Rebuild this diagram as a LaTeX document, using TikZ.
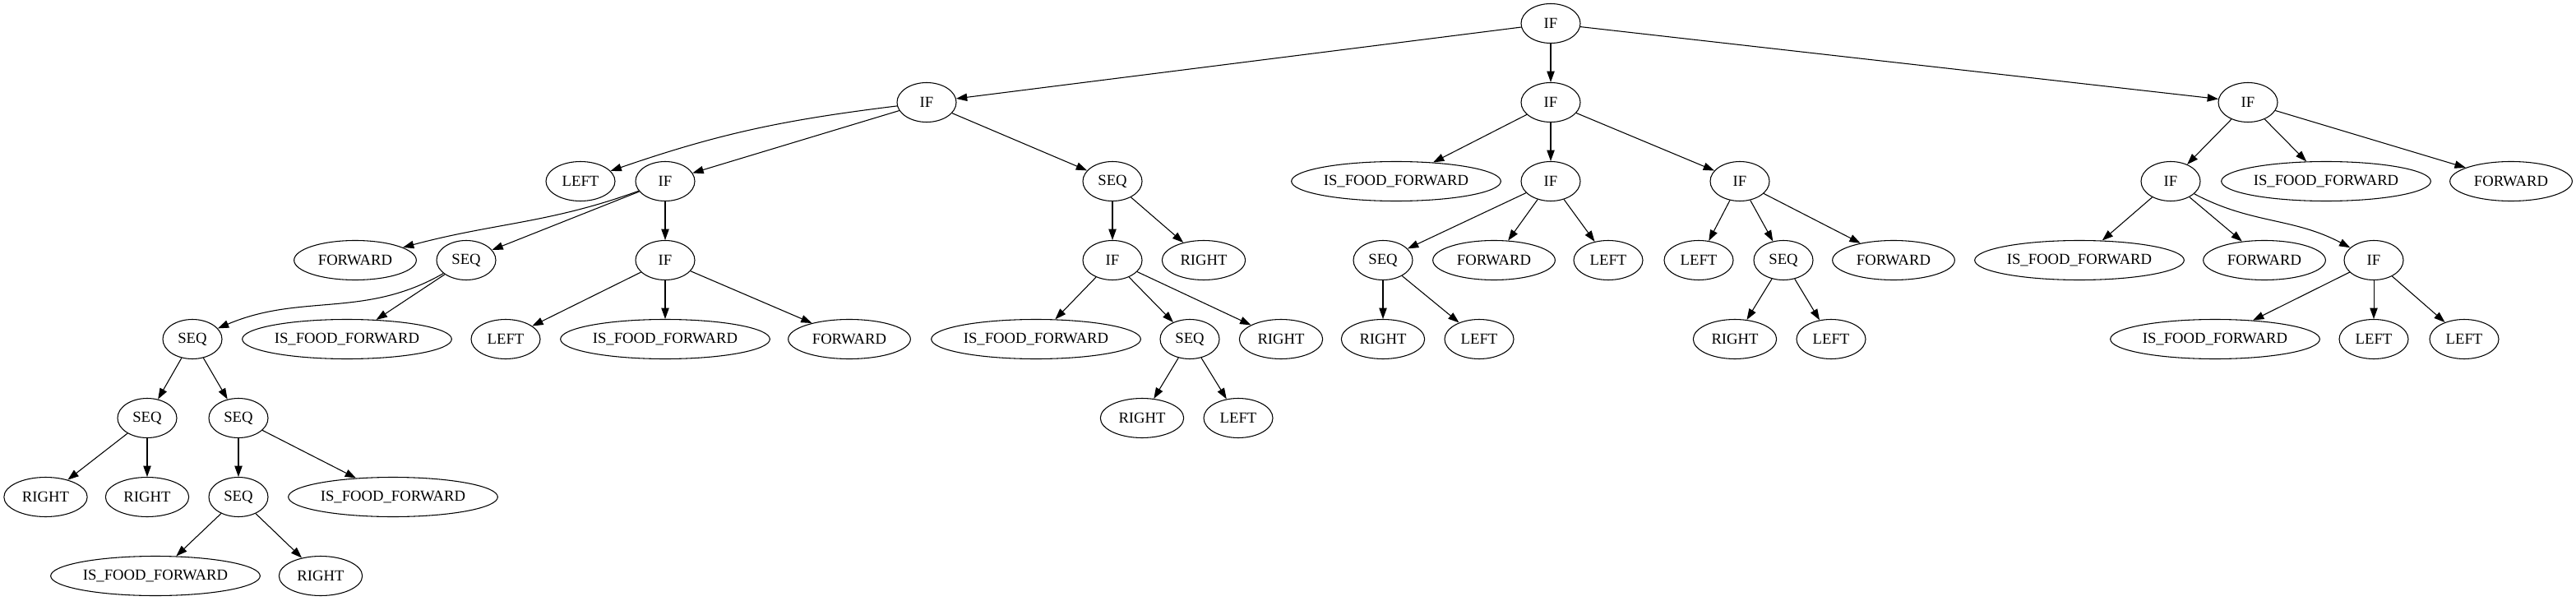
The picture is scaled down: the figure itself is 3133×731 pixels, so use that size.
\documentclass[tikz,border=0pt]{standalone}
\usepackage{fontspec}
\setmainfont{Liberation Serif}
\usetikzlibrary{shapes.geometric,arrows.meta}

\begin{document}
\begin{tikzpicture}[x=0.75pt, y=-0.75pt, line width=0.8pt,
		>={Triangle[length=10pt,width=7pt]},
		gv/.style={draw, ellipse, inner sep=0pt, minimum width=54pt, minimum height=36pt, font=\fontsize{14pt}{17pt}\selectfont},
		lft/.style={gv, minimum width=63pt},
		rgt/.style={gv, minimum width=76pt},
		fwd/.style={gv, minimum width=111.5pt},
		isf/.style={gv, minimum width=191pt}]
		\useasboundingbox (0,0) rectangle (3133,731);
		
		% rank 0 and 1
		\node[gv] (IF1) at (1886,28.5) {IF};
		\node[gv] (IF2) at (1127,124.5) {IF};
		\node[gv] (IF3) at (1886,124.5) {IF};
		\node[gv] (IF4) at (2734,124.5) {IF};
		
		% rank 2
		\node[lft] (L1) at (706,220.5) {LEFT};
		\node[gv] (IF5) at (809,220.5) {IF};
		\node[gv] (SEQ1) at (1353,220.5) {SEQ};
		\node[isf] (FF1) at (1698,220.5) {IS\_FOOD\_FORWARD};
		\node[gv] (IF6) at (1886,220.5) {IF};
		\node[gv] (IF7) at (2116,220.5) {IF};
		\node[gv] (IF8) at (2640,220.5) {IF};
		\node[isf] (FF2) at (2829,220.5) {IS\_FOOD\_FORWARD};
		\node[fwd] (F1) at (3054,220.5) {FORWARD};
		
		% rank 3
		\node[fwd] (F2) at (432,316.5) {FORWARD};
		\node[gv] (SEQ2) at (567,316.5) {SEQ};
		\node[gv] (IF9) at (809,316.5) {IF};
		\node[gv] (IF10) at (1353,316.5) {IF};
		\node[rgt] (R1) at (1464,316.5) {RIGHT};
		\node[gv] (SEQ3) at (1682,316.5) {SEQ};
		\node[fwd] (F3) at (1817,316.5) {FORWARD};
		\node[lft] (L2) at (1956,316.5) {LEFT};
		\node[lft] (L3) at (2066,316.5) {LEFT};
		\node[gv] (SEQ4) at (2169,316.5) {SEQ};
		\node[fwd] (F4) at (2303,316.5) {FORWARD};
		\node[isf] (FF3) at (2529,316.5) {IS\_FOOD\_FORWARD};
		\node[fwd] (F5) at (2754,316.5) {FORWARD};
		\node[gv] (IF11) at (2887,316.5) {IF};
		
		% rank 4
		\node[gv] (SEQ5) at (234,412.5) {SEQ};
		\node[isf] (FF4) at (422,412.5) {IS\_FOOD\_FORWARD};
		\node[lft] (L4) at (615,412.5) {LEFT};
		\node[isf] (FF5) at (809,412.5) {IS\_FOOD\_FORWARD};
		\node[fwd] (F6) at (1033,412.5) {FORWARD};
		\node[isf] (FF6) at (1260,412.5) {IS\_FOOD\_FORWARD};
		\node[gv] (SEQ6) at (1447,412.5) {SEQ};
		\node[rgt] (R2) at (1558,412.5) {RIGHT};
		\node[rgt] (R3) at (1682,412.5) {RIGHT};
		\node[lft] (L5) at (1799,412.5) {LEFT};
		\node[rgt] (R4) at (2110,412.5) {RIGHT};
		\node[lft] (L6) at (2227,412.5) {LEFT};
		\node[isf] (FF7) at (2694,412.5) {IS\_FOOD\_FORWARD};
		\node[lft] (L7) at (2887,412.5) {LEFT};
		\node[lft] (L8) at (2997,412.5) {LEFT};
		
		% rank 5 to 7
		\node[gv] (SEQ7) at (179,508.5) {SEQ};
		\node[gv] (SEQ8) at (290,508.5) {SEQ};
		\node[rgt] (R5) at (1389,508.5) {RIGHT};
		\node[lft] (L9) at (1506,508.5) {LEFT};
		\node[rgt] (R6) at (55.5,604.5) {RIGHT};
		\node[rgt] (R7) at (179,604.5) {RIGHT};
		\node[gv] (SEQ9) at (290,604.5) {SEQ};
		\node[isf] (FF8) at (478,604.5) {IS\_FOOD\_FORWARD};
		\node[isf] (FF9) at (189,700.5) {IS\_FOOD\_FORWARD};
		\node[rgt] (R8) at (390,700.5) {RIGHT};
		
		\path [->] (IF1) edge (IF2);
		\path [->] (IF1) edge (IF3);
		\path [->] (IF1) edge (IF4);
		\path [->] (IF2) edge[out=187,in=19] (L1);
		\path [->] (IF2) edge (IF5);
		\path [->] (IF2) edge (SEQ1);
		\path [->] (IF3) edge (FF1);
		\path [->] (IF3) edge (IF6);
		\path [->] (IF3) edge (IF7);
		\path [->] (IF4) edge (IF8);
		\path [->] (IF4) edge (FF2);
		\path [->] (IF4) edge (F1);
		\path [->] (IF5) edge[out=200,in=15] (F2);
		\path [->] (IF5) edge (SEQ2);
		\path [->] (IF5) edge (IF9);
		\path [->] (SEQ1) edge (IF10);
		\path [->] (SEQ1) edge (R1);
		\path [->] (IF6) edge (SEQ3);
		\path [->] (IF6) edge (F3);
		\path [->] (IF6) edge (L2);
		\path [->] (IF7) edge (L3);
		\path [->] (IF7) edge (SEQ4);
		\path [->] (IF7) edge (F4);
		\path [->] (IF8) edge (FF3);
		\path [->] (IF8) edge (F5);
		\path [->] (IF8) edge[out=-28,in=152] (IF11);
		\path [->] (SEQ2) edge[out=210,in=23] (SEQ5);
		\path [->] (SEQ2) edge (FF4);
		\path [->] (IF9) edge (L4);
		\path [->] (IF9) edge (FF5);
		\path [->] (IF9) edge (F6);
		\path [->] (IF10) edge (FF6);
		\path [->] (IF10) edge (SEQ6);
		\path [->] (IF10) edge (R2);
		\path [->] (SEQ3) edge (R3);
		\path [->] (SEQ3) edge (L5);
		\path [->] (SEQ4) edge (R4);
		\path [->] (SEQ4) edge (L6);
		\path [->] (IF11) edge (FF7);
		\path [->] (IF11) edge (L7);
		\path [->] (IF11) edge (L8);
		\path [->] (SEQ5) edge (SEQ7);
		\path [->] (SEQ5) edge (SEQ8);
		\path [->] (SEQ6) edge (R5);
		\path [->] (SEQ6) edge (L9);
		\path [->] (SEQ7) edge (R6);
		\path [->] (SEQ7) edge (R7);
		\path [->] (SEQ8) edge (SEQ9);
		\path [->] (SEQ8) edge (FF8);
		\path [->] (SEQ9) edge (FF9);
		\path [->] (SEQ9) edge (R8);
		\end{tikzpicture}
\end{document}
